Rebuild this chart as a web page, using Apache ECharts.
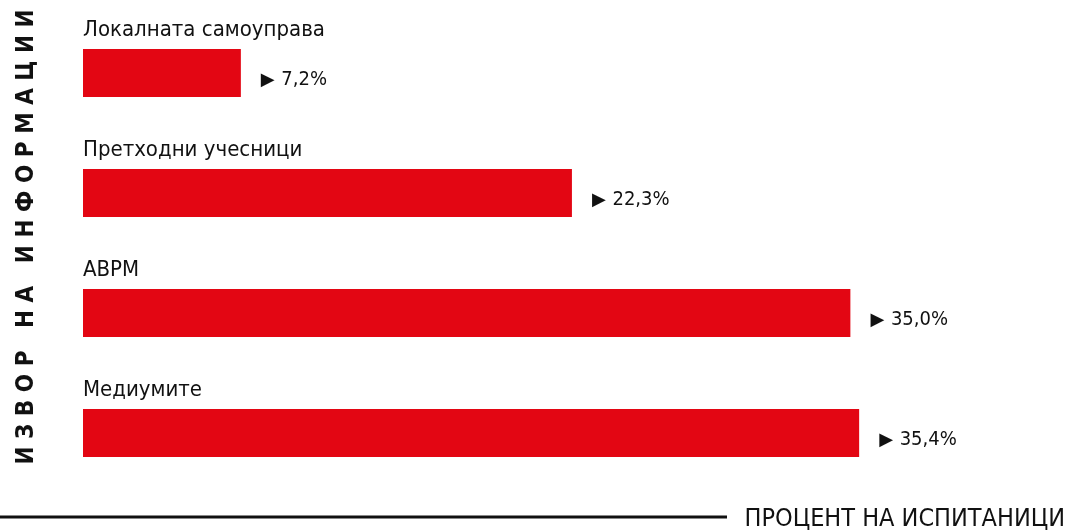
<!DOCTYPE html>
<html>
<head>
<meta charset="utf-8">
<script src="https://cdn.jsdelivr.net/npm/echarts@6/dist/echarts.min.js"></script>
<style>
  html, body { margin: 0; padding: 0; background: #fff; }
  #chart { width: 1067px; height: 532px; }
</style>
</head>
<body>
<div id="chart"></div>
<script>
// категории и вредности (проценти)
const categories = ['Локалната самоуправа', 'Претходни учесници', 'АВРМ', 'Медиумите'];
const values = [7.2, 22.3, 35.0, 35.4];

const yTitle = 'И З В О Р   Н А   И Н Ф О Р М А Ц И И';
const xTitle = 'ПРОЦЕНТ НА ИСПИТАНИЦИ';

const narrow = '"Liberation Sans Narrow", "DejaVu Sans Condensed", sans-serif';

const chart = echarts.init(document.getElementById('chart'));

const option = {
  animation: false,
  grid: {
    left: 83,
    right: 107,
    top: 13,
    bottom: 39
  },
  xAxis: {
    type: 'value',
    min: 0,
    max: 40,
    show: false
  },
  yAxis: {
    type: 'category',
    data: categories,
    inverse: true,
    show: false
  },
  series: [
    {
      type: 'bar',
      data: values,
      barWidth: 48,
      itemStyle: { color: '#e30613' },
      label: {
        show: true,
        position: 'right',
        distance: 20,
        offset: [0, 7],
        formatter: p => '{t|▶}  {v|' + p.value.toFixed(1).replace('.', ',') + '%}',
        rich: {
          t: { fontSize: 18, color: '#111', fontFamily: 'DejaVu Sans' },
          v: { fontSize: 20, color: '#111', fontFamily: narrow }
        }
      }
    },
    {
      // само за натписите над лентите
      type: 'bar',
      data: values,
      barWidth: 48,
      barGap: '-100%',
      silent: true,
      itemStyle: { color: 'rgba(0,0,0,0)' },
      label: {
        show: true,
        position: [0, -8],
        align: 'left',
        verticalAlign: 'bottom',
        formatter: '{b}',
        fontSize: 22,
        color: '#111',
        fontFamily: narrow
      }
    }
  ],
  graphic: [
    {
      type: 'text',
      x: 27,
      y: 237,
      rotation: Math.PI / 2,
      style: {
        text: yTitle,
        fontSize: 24,
        fontWeight: 'bold',
        fontFamily: narrow,
        fill: '#111',
        align: 'center',
        verticalAlign: 'middle'
      }
    },
    {
      type: 'line',
      shape: { x1: 0, y1: 517, x2: 727, y2: 517 },
      style: { stroke: '#111', lineWidth: 3 }
    },
    {
      type: 'text',
      x: 1065,
      y: 519,
      style: {
        text: xTitle,
        fontSize: 25,
        fontFamily: narrow,
        fill: '#111',
        align: 'right',
        verticalAlign: 'middle'
      }
    }
  ]
};

chart.setOption(option);
</script>
</body>
</html>
